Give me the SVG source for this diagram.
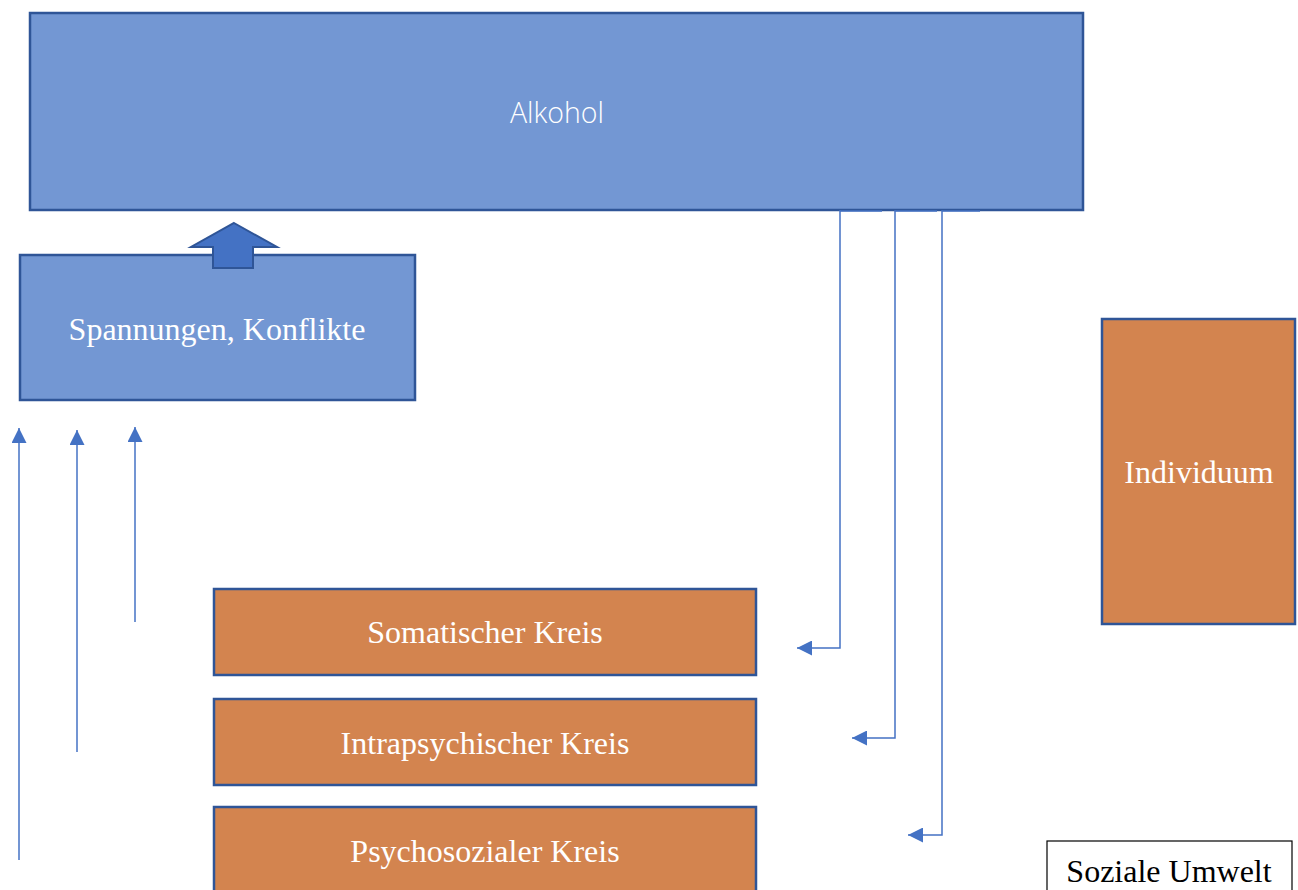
<svg xmlns="http://www.w3.org/2000/svg" width="1298" height="890" viewBox="0 0 1298 890">
<defs>
<style>
.blue{fill:#7397D3;stroke:#2F5597;stroke-width:2.5}
.orange{fill:#D3844F;stroke:#2F5597;stroke-width:2.5}
.serif{font-family:"Liberation Serif","Times New Roman",serif;font-size:32px;fill:#ffffff;text-anchor:middle}
.conn{fill:none;stroke:#4472C4;stroke-width:1.5}
</style>
<marker id="ah2" viewBox="0 0 10 10" refX="10" refY="5" markerWidth="15" markerHeight="15" markerUnits="userSpaceOnUse" orient="auto">
<path d="M0,0 L10,5 L0,10 z" fill="#4472C4"/>
</marker>
</defs>
<rect width="1298" height="890" fill="#ffffff"/>
<g id="alkohol">
<rect class="blue" x="30" y="13" width="1053" height="197"/>
<text x="557" y="123" font-family="'Open Sans','Noto Sans',sans-serif" font-weight="300" font-size="28.5" fill="#ffffff" text-anchor="middle">Alkohol</text>
</g>
<g id="spannungen">
<rect class="blue" x="20" y="255" width="395" height="145"/>
<text class="serif" x="217" y="340">Spannungen, Konflikte</text>
</g>
<g id="blockarrow">
<path d="M234,223 L277,247 L253,247 L253,268 L213,268 L213,247 L191,247 Z" fill="#4472C4" stroke="#2F5597" stroke-width="2"/>
</g>
<g id="somatisch">
<rect class="orange" x="214" y="589" width="542" height="86"/>
<text class="serif" x="485" y="643">Somatischer Kreis</text>
</g>
<g id="intrapsychisch">
<rect class="orange" x="214" y="699" width="542" height="86"/>
<text class="serif" x="485" y="754">Intrapsychischer Kreis</text>
</g>
<g id="psychosozial">
<rect class="orange" x="214" y="807" width="542" height="100"/>
<text class="serif" x="485" y="862">Psychosozialer Kreis</text>
</g>
<g id="individuum">
<rect class="orange" x="1102" y="319" width="193" height="305"/>
<text class="serif" x="1199" y="483">Individuum</text>
</g>
<g id="sozialeumwelt">
<rect x="1047" y="841" width="245" height="60" fill="#ffffff" stroke="#000000" stroke-width="1.2"/>
<text class="serif" x="1169" y="882" style="fill:#000000">Soziale Umwelt</text>
</g>
<g id="connectors">
<path class="conn" d="M840,211 L882,211 M895,211 L937,211 M942,211 L980,211" stroke="#2F5597"/>
<path class="conn" d="M840,210 L840,648 L797,648" marker-end="url(#ah2)"/>
<path class="conn" d="M895,210 L895,738 L852,738" marker-end="url(#ah2)"/>
<path class="conn" d="M942,210 L942,835 L908,835" marker-end="url(#ah2)"/>
<path class="conn" d="M19,860 L19,428" marker-end="url(#ah2)"/>
<path class="conn" d="M77,752 L77,430" marker-end="url(#ah2)"/>
<path class="conn" d="M135,622 L135,427" marker-end="url(#ah2)"/>
</g>
</svg>
